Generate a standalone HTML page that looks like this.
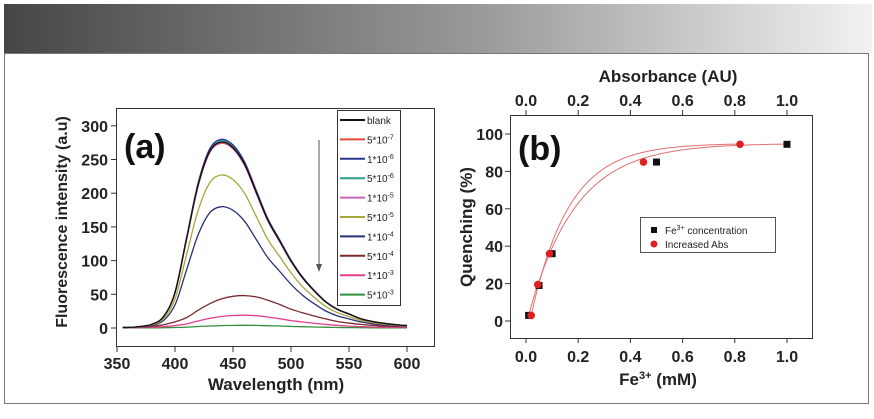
<!DOCTYPE html>
<html><head><meta charset="utf-8"><style>
body{margin:0;background:#fff;width:874px;height:414px;overflow:hidden}
svg{font-family:"Liberation Sans",sans-serif}
</style></head><body>
<svg id="s" width="874" height="414" xmlns="http://www.w3.org/2000/svg">
<defs><linearGradient id="g" x1="0" x2="1"><stop offset="0" stop-color="#464646"/><stop offset="0.55" stop-color="#9a9a9a"/><stop offset="1" stop-color="#f2f2f2"/></linearGradient></defs>
<rect x="4" y="4" width="868" height="49" fill="url(#g)"/>
<rect x="4.5" y="53.5" width="864" height="350" fill="none" stroke="#777" stroke-width="1"/>
<g id="pa"></g>
<g id="pb"></g>
</svg>
<script>
const wl=[360,370,380,390,400,410,420,430,440,450,460,470,480,490,500,510,520,530,540,550,560,570,580,590,600];
const shapeMain=[0.003,0.008,0.02,0.06,0.19,0.48,0.77,0.95,1.0,0.97,0.88,0.73,0.58,0.47,0.36,0.27,0.2,0.14,0.1,0.075,0.05,0.035,0.025,0.018,0.013];
const shapeLow=[0.02,0.03,0.05,0.1,0.19,0.32,0.55,0.75,0.9,0.98,1.0,0.96,0.86,0.73,0.58,0.47,0.37,0.28,0.2,0.15,0.11,0.08,0.06,0.05,0.04];
const seriesNames=["blank","5*10-7","1*10-6","5*10-6","1*10-5","5*10-5","1*10-4","5*10-4","1*10-3","5*10-3"];
const seriesExp=["","-7","-6","-6","-5","-5","-4","-4","-3","-3"];
const seriesBase=["blank","5*10","1*10","5*10","1*10","5*10","1*10","5*10","1*10","5*10"];
const seriesPeak=[276,275,280,278,274,227,180,48,19,4];
const seriesShape=["m","m","m","m","m","m","m","l","l","l"];
const seriesColor=["#111","#e8453c","#2b3990","#2a9d8f","#d061b8","#a4a83a","#27307a","#7a2a2a","#e0408a","#2f8f3a"];
const xTicksA=[350,400,450,500,550,600];
const yTicksA=[0,50,100,150,200,250,300];
const feX=[0.01,0.05,0.1,0.5,1.0];
const feY=[3,19,36,85,94.5];
const absX=[0.02,0.045,0.09,0.45,0.82];
const absY=[3,19.5,36,85,94.5];
const ticksB=[0,0.2,0.4,0.6,0.8,1.0];
const yTicksB=[0,20,40,60,80,100];
const NS="http://www.w3.org/2000/svg";
function el(p,t,a,txt){const e=document.createElementNS(NS,t);for(const k in a)e.setAttribute(k,a[k]);if(txt!==undefined)e.textContent=txt;p.appendChild(e);return e;}
function smooth(P){let d='M'+P[0][0].toFixed(1)+','+P[0][1].toFixed(1);for(let i=0;i<P.length-1;i++){const p0=P[i-1]||P[i],p1=P[i],p2=P[i+1],p3=P[i+2]||p2;
 const c1=[p1[0]+(p2[0]-p0[0])/6,p1[1]+(p2[1]-p0[1])/6],c2=[p2[0]-(p3[0]-p1[0])/6,p2[1]-(p3[1]-p1[1])/6];
 d+=' C'+c1.map(v=>v.toFixed(1)).join(',')+' '+c2.map(v=>v.toFixed(1)).join(',')+' '+p2[0].toFixed(1)+','+p2[1].toFixed(1);}return d;}
const pa=document.getElementById('pa');
const xa=v=>117+(v-350)*(290/250), ya=v=>328-v*0.674;
let r=el(pa,'rect',{x:116.5,y:108.5,width:318,height:238,fill:'none',stroke:'#333'});


xTicksA.forEach(t=>{el(pa,'line',{x1:xa(t),x2:xa(t),y1:347,y2:352,stroke:'#333'});
 const tx=el(pa,'text',{x:xa(t),y:369,'text-anchor':'middle','font-size':16,'font-weight':'bold',fill:'#222'},t);
 
 });
yTicksA.forEach(t=>{el(pa,'line',{x1:111,x2:116,y1:ya(t),y2:ya(t),stroke:'#333'});
 const tx=el(pa,'text',{x:108,y:ya(t)+6,'text-anchor':'end','font-size':16,'font-weight':'bold',fill:'#222'},t);
 
 });
let t1=el(pa,'text',{x:276,y:390,'text-anchor':'middle','font-size':17,'font-weight':'bold',fill:'#222'},'Wavelength (nm)');


let t2=el(pa,'text',{x:0,y:0,transform:'translate(67,222) rotate(-90)','text-anchor':'middle','font-size':16,'font-weight':'bold',fill:'#222'},'Fluorescence intensity (a.u)');


let t3=el(pa,'text',{x:124,y:158,'font-size':34,'font-weight':'bold',fill:'#111'},'(a)');


for(let i=seriesPeak.length-1;i>=0;i--){
 const sh=seriesShape[i]==='m'?shapeMain:shapeLow;
 const P=wl.map((w,j)=>[xa(w),ya(seriesPeak[i]*sh[j])]);
 P.unshift([xa(355),ya(seriesPeak[i]*sh[0])]);
 const pl=el(pa,'path',{d:smooth(P),fill:'none',stroke:seriesColor[i],'stroke-width':1.3});
 
 
}
el(pa,'line',{x1:319,x2:319,y1:140,y2:268,stroke:'#555','stroke-width':1});
let ar=el(pa,'path',{d:'M316,264 L319,272 L322,264 Z',fill:'#555'});


let lg=el(pa,'rect',{x:337.5,y:110.5,width:63,height:195,fill:'#fff',stroke:'#333'});


seriesNames.forEach((n,i)=>{const y=120+i*19.4;
 el(pa,'line',{x1:340,x2:365,y1:y,y2:y,stroke:seriesColor[i],'stroke-width':2});
 const tx=el(pa,'text',{x:367,y:y+4,'font-size':10,fill:'#222'});
 
 
 tx.appendChild(document.createTextNode(seriesBase[i]));
 if(seriesExp[i]){el(tx,'tspan',{dy:-4,'font-size':7},seriesExp[i]);}
});
const pb=document.getElementById('pb');
const xb=v=>526+v*261, yb=v=>321-v*1.87;
let rb=el(pb,'rect',{x:510.5,y:115.5,width:302,height:223,fill:'none',stroke:'#333'});


ticksB.forEach(t=>{
 el(pb,'line',{x1:xb(t),x2:xb(t),y1:338,y2:343,stroke:'#333'});
 el(pb,'line',{x1:xb(t),x2:xb(t),y1:110,y2:115,stroke:'#333'});
 const a=el(pb,'text',{x:xb(t),y:362,'text-anchor':'middle','font-size':16,'font-weight':'bold',fill:'#222'},t.toFixed(1));
 
 
 const b=el(pb,'text',{x:xb(t),y:106,'text-anchor':'middle','font-size':16,'font-weight':'bold',fill:'#222'},t.toFixed(1));
 
 });
yTicksB.forEach(t=>{el(pb,'line',{x1:505,x2:510,y1:yb(t),y2:yb(t),stroke:'#333'});
 const a=el(pb,'text',{x:503,y:yb(t)+6,'text-anchor':'end','font-size':16,'font-weight':'bold',fill:'#222'},t);
 
 });
let bt=el(pb,'text',{x:668,y:82,'text-anchor':'middle','font-size':17,'font-weight':'bold',fill:'#222'},'Absorbance (AU)');


let bx=el(pb,'text',{x:658,y:385,'text-anchor':'middle','font-size':17,'font-weight':'bold',fill:'#222'});


bx.appendChild(document.createTextNode('Fe'));el(bx,'tspan',{dy:-6,'font-size':11},'3+');el(bx,'tspan',{dy:6},' (mM)');
let by=el(pb,'text',{x:0,y:0,transform:'translate(472,227) rotate(-90)','text-anchor':'middle','font-size':17,'font-weight':'bold',fill:'#222'},'Quenching (%)');


let bl=el(pb,'text',{x:518,y:160,'font-size':34,'font-weight':'bold',fill:'#111'},'(b)');


function fit(xs,ys,k){const p=[];for(let v=xs[0];v<=xs[xs.length-1]+1e-9;v+=0.005){const A=ys[ys.length-1]+0.5;const y=A-(A-ys[0])*Math.exp(-(v-xs[0])/k);p.push(xb(v).toFixed(1)+','+yb(y).toFixed(1));}return p.join(' ');}
let f1=el(pb,'polyline',{points:fit(feX,feY,0.18),fill:'none',stroke:'#e07070','stroke-width':1});


let f2=el(pb,'polyline',{points:fit(absX,absY,0.145),fill:'none',stroke:'#e07070','stroke-width':1});


feX.forEach((x,i)=>{const m=el(pb,'rect',{x:xb(x)-3.5,y:yb(feY[i])-3.5,width:7,height:7,fill:'#111'});
 
 });
absX.forEach((x,i)=>{const m=el(pb,'circle',{cx:xb(x),cy:yb(absY[i]),r:3.8,fill:'#e02020'});
 
 });
let lb=el(pb,'rect',{x:640.5,y:217.5,width:135,height:35,fill:'#fff',stroke:'#555'});


el(pb,'rect',{x:651,y:227,width:6,height:6,fill:'#111'});
let le1=el(pb,'text',{x:665,y:234,'font-size':10,fill:'#222'});


le1.appendChild(document.createTextNode('Fe'));el(le1,'tspan',{dy:-4,'font-size':7},'3+');el(le1,'tspan',{dy:4},' concentration');
el(pb,'circle',{cx:654,cy:244,r:3.5,fill:'#e02020'});
let le2=el(pb,'text',{x:665,y:248,'font-size':10,fill:'#222'},'Increased Abs');


</script>
</body></html>
